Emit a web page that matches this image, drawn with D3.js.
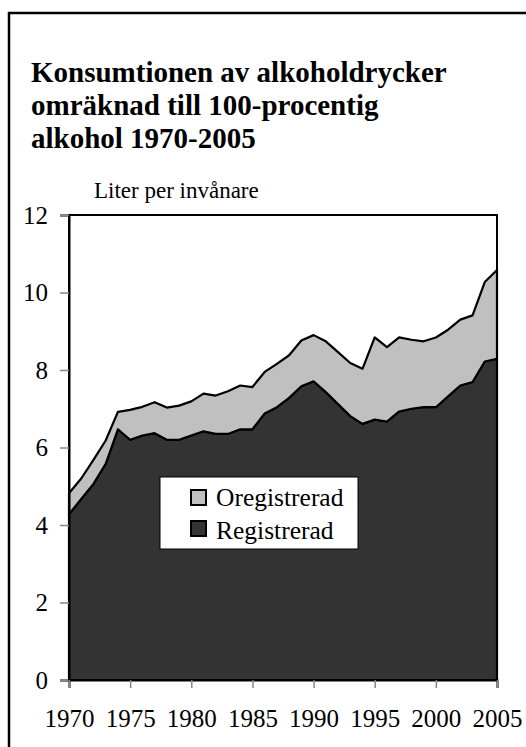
<!DOCTYPE html>
<html><head><meta charset="utf-8">
<script src="https://cdn.jsdelivr.net/npm/d3@7"></script>
<style>body{margin:0;background:#fff}svg{display:block}
svg text{font-family:"Liberation Serif","Times New Roman","DejaVu Serif",serif;}</style>
</head><body>
<svg id="c" width="526" height="747"></svg>
<script>
const years = d3.range(1970, 2006);
const registrerad = [4.28,4.67,5.06,5.58,6.47,6.2,6.31,6.37,6.2,6.2,6.31,6.42,6.35,6.35,6.47,6.47,6.88,7.04,7.28,7.58,7.71,7.43,7.12,6.81,6.61,6.72,6.67,6.93,7.0,7.04,7.04,7.32,7.6,7.69,8.22,8.29];
const total = [4.82,5.2,5.68,6.18,6.92,6.97,7.05,7.17,7.03,7.08,7.19,7.39,7.34,7.45,7.6,7.56,7.95,8.16,8.38,8.76,8.9,8.74,8.46,8.18,8.03,8.84,8.59,8.84,8.78,8.74,8.84,9.04,9.3,9.41,10.27,10.58];
const oregistrerad = total.map((t,i)=> +(t - registrerad[i]).toFixed(2));
const yTicks = [0,2,4,6,8,10,12];
const xTicks = [1970,1975,1980,1985,1990,1995,2000,2005];
const titleLines = ["Konsumtionen av alkoholdrycker","omräknad till 100-procentig","alkohol 1970-2005"];

const svg = d3.select("#c");
svg.append("rect").attr("x",9).attr("y",13).attr("width",560).attr("height",760)
  .attr("fill","none").attr("stroke","#000").attr("stroke-width",2.5);

const title = svg.append("text").attr("font-weight","bold").attr("font-size",29);
title.selectAll("tspan").data(titleLines).join("tspan")
  .attr("x",31).attr("y",(d,i)=>82+i*33).text(d=>d);

const x = d3.scaleLinear().domain([1970,2005]).range([69,497]);
const y = d3.scaleLinear().domain([0,12]).range([680,215]);

const rows = years.map((yr,i)=>({year:yr, Registrerad:registrerad[i], Oregistrerad:oregistrerad[i]}));
const stack = d3.stack().keys(["Registrerad","Oregistrerad"]);
const series = stack(rows);
const colors = {Registrerad:"#333333", Oregistrerad:"#c0c0c0"};
const area = d3.area().x(d=>x(d.data.year)).y0(d=>y(d[0])).y1(d=>y(d[1]));

svg.append("g").selectAll("path").data(series).join("path")
  .attr("d",area).attr("fill",d=>colors[d.key]).attr("stroke","#000").attr("stroke-width",2.2)
  .attr("stroke-linejoin","round");

svg.append("rect").attr("x",69).attr("y",215).attr("width",428).attr("height",465)
  .attr("fill","none").attr("stroke","#000").attr("stroke-width",2);

const yAxis = svg.append("g").attr("transform","translate(69,0)")
  .call(d3.axisLeft(y).tickValues(yTicks).tickSize(9).tickPadding(12).tickFormat(d3.format("d")));
yAxis.attr("font-family",null);
yAxis.select(".domain").attr("stroke","#000").attr("stroke-width",2);
yAxis.selectAll(".tick line").attr("stroke","#888").attr("stroke-width",1.5);
yAxis.selectAll("text").attr("font-size",25).attr("fill","#000");

const xAxis = svg.append("g").attr("transform","translate(0,680)")
  .call(d3.axisBottom(x).tickValues(xTicks).tickSize(8).tickPadding(21).tickFormat(d3.format("d")));
xAxis.attr("font-family",null);
xAxis.select(".domain").attr("stroke","#000").attr("stroke-width",2);
xAxis.selectAll(".tick line").attr("stroke","#888").attr("stroke-width",1.5);
xAxis.selectAll("text").attr("font-size",25).attr("fill","#000");

svg.append("text").attr("x",94).attr("y",198).attr("font-size",23).text("Liter per invånare");

const lg = svg.append("g");
lg.append("rect").attr("x",160).attr("y",477).attr("width",198).attr("height",72)
  .attr("fill","#fff").attr("stroke","#000").attr("stroke-width",1);
const legendItems = ["Oregistrerad","Registrerad"];
legendItems.forEach((k,i)=>{
  lg.append("rect").attr("x",191).attr("y",490+i*31).attr("width",15).attr("height",15)
    .attr("fill",colors[k]).attr("stroke","#000").attr("stroke-width",2);
  lg.append("text").attr("x",216).attr("y",506+i*33).attr("font-size",25.5).text(k);
});
</script>
</body></html>
